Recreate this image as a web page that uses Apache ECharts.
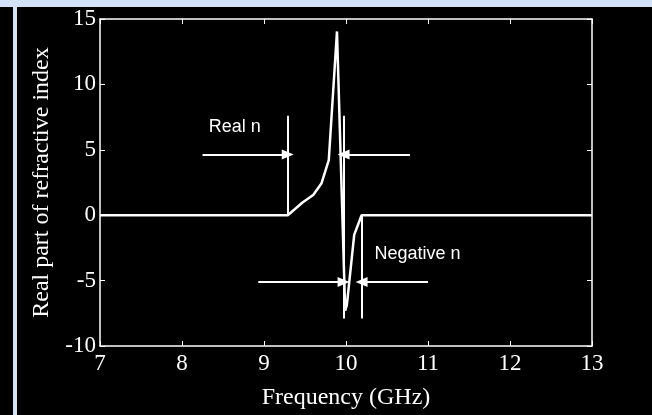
<!DOCTYPE html>
<html>
<head>
<meta charset="utf-8">
<script src="https://cdn.jsdelivr.net/npm/echarts@6/dist/echarts.min.js"></script>
<style>
html, body { margin: 0; padding: 0; background: #000; }
#chart { width: 652px; height: 415px; }
</style>
</head>
<body>
<div id="chart"></div>
<script>
// curve
const freq = [7, 9.29, 9.47, 9.6, 9.7, 9.79, 9.89, 9.99, 10.01, 10.1, 10.19, 13];
const realN = [0, 0, 0.97, 1.54, 2.42, 4.22, 14.05, -7.3, -6.9, -1.5, 0, 0];

// vertical band edges: x, top, bottom
const edgeX = [9.29, 9.97, 10.19];
const edgeTop = [7.6, 7.6, 0];
const edgeBottom = [0, -7.9, -7.9];

// arrows: from x, to x, at y
const arrowFrom = [8.25, 10.78, 8.93, 11.0];
const arrowTo = [9.29, 9.97, 9.97, 10.19];
const arrowY = [4.65, 4.65, -5.1, -5.1];

// text notes
const noteText = ['Real n', 'Negative n'];
const noteX = [8.32, 10.34];
const noteY = [6.72, -2.95];

const xMin = 7, xMax = 13, xStep = 1;
const yMin = -10, yMax = 15, yStep = 5;

const white = '#ffffff';
const serif = 'Liberation Serif';

const boxAxis = {
    axisLine: { show: true, onZero: false, lineStyle: { color: white, width: 1.5 } },
    axisTick: { show: true, inside: true, length: 5, lineStyle: { color: white, width: 1 } },
    splitLine: { show: false },
};

const edgeLines = edgeX.map((x, i) => [{ coord: [x, edgeTop[i]] }, { coord: [x, edgeBottom[i]] }]);
const arrowLines = arrowFrom.map((x, i) => [
    { coord: [x, arrowY[i]], symbol: 'none' },
    { coord: [arrowTo[i], arrowY[i]], symbol: 'triangle' },
]);

const myChart = echarts.init(document.getElementById('chart'));
myChart.setOption({
    backgroundColor: '#000',
    animation: false,
    graphic: [
        { type: 'rect', shape: { x: 0, y: 0, width: 652, height: 7 }, style: { fill: '#d3e2f6' }, silent: true },
        { type: 'rect', shape: { x: 13, y: 0, width: 4, height: 415 }, style: { fill: '#d3e2f6' }, silent: true },
    ],
    grid: { left: 100, right: 60, top: 19, bottom: 62 },
    xAxis: [
        Object.assign({
            type: 'value', min: xMin, max: xMax, interval: xStep, position: 'bottom',
            name: 'Frequency (GHz)', nameLocation: 'middle', nameGap: 40,
            nameTextStyle: { color: white, fontFamily: serif, fontSize: 24 },
            axisLabel: { color: white, fontFamily: serif, fontSize: 23, margin: 6 },
        }, boxAxis),
        Object.assign({
            type: 'value', min: xMin, max: xMax, interval: xStep, position: 'top',
            axisLabel: { show: false },
        }, boxAxis),
    ],
    yAxis: [
        Object.assign({
            type: 'value', min: yMin, max: yMax, interval: yStep, position: 'left',
            name: 'Real part of refractive index', nameLocation: 'middle', nameGap: 46,
            nameTextStyle: { color: white, fontFamily: serif, fontSize: 24 },
            axisLabel: { color: white, fontFamily: serif, fontSize: 23, margin: 4 },
        }, boxAxis),
        Object.assign({
            type: 'value', min: yMin, max: yMax, interval: yStep, position: 'right',
            axisLabel: { show: false },
        }, boxAxis),
    ],
    series: [
        {
            type: 'line',
            data: freq.map((f, i) => [f, realN[i]]),
            symbol: 'none',
            silent: true,
            lineStyle: { color: white, width: 2.5 },
            markLine: {
                silent: true,
                symbol: 'none',
                label: { show: false },
                lineStyle: { color: white, width: 2, type: 'solid' },
                emphasis: { disabled: true },
                data: edgeLines,
            },
            markPoint: {
                silent: true,
                symbol: 'circle',
                symbolSize: 1,
                itemStyle: { color: 'transparent' },
                label: {
                    show: true, position: 'right', distance: 0,
                    color: white, fontFamily: 'Liberation Sans', fontSize: 18,
                    formatter: p => p.name,
                },
                data: noteText.map((t, i) => ({ name: t, coord: [noteX[i], noteY[i]] })),
            },
        },
        {
            type: 'line',
            data: [],
            silent: true,
            markLine: {
                silent: true,
                symbolSize: [10, 12],
                label: { show: false },
                lineStyle: { color: white, width: 2, type: 'solid' },
                itemStyle: { color: white },
                emphasis: { disabled: true },
                data: arrowLines,
            },
        },
    ],
});
</script>
</body>
</html>
